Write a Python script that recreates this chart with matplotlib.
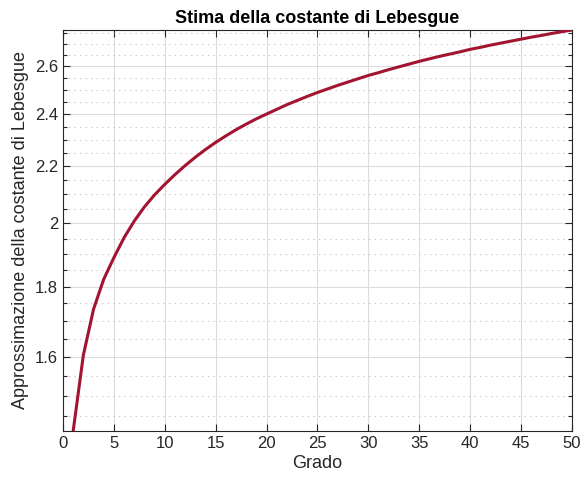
import numpy as np
import matplotlib
matplotlib.use("Agg")
import matplotlib.pyplot as plt
from matplotlib.ticker import FixedLocator, NullFormatter

plt.rcParams['font.family'] = ['Liberation Sans', 'DejaVu Sans']

# ==================== dati ====================
grado = list(range(1, 51))
lebesgue = [
    1.414, 1.605, 1.733, 1.822, 1.889, 1.953, 2.008, 2.056, 2.098, 2.135,
    2.170, 2.203, 2.234, 2.263, 2.290, 2.315, 2.339, 2.361, 2.382, 2.401,
    2.420, 2.439, 2.456, 2.473, 2.489, 2.504, 2.519, 2.533, 2.547, 2.561,
    2.573, 2.586, 2.598, 2.610, 2.622, 2.633, 2.644, 2.654, 2.664, 2.675,
    2.684, 2.694, 2.703, 2.712, 2.721, 2.730, 2.738, 2.747, 2.755, 2.763,
]
x_ticks = list(range(0, 51, 5))
y_ticks = [1.6, 1.8, 2.0, 2.2, 2.4, 2.6]
y_tick_labels = ['1.6', '1.8', '2', '2.2', '2.4', '2.6']
y_minor = [1.45, 1.5, 1.55, 1.65, 1.7, 1.75, 1.85, 1.9, 1.95, 2.05, 2.1, 2.15,
           2.25, 2.3, 2.35, 2.45, 2.5, 2.55, 2.65, 2.7, 2.75]

# ==================== grafico ====================
fig = plt.figure(figsize=(5.8, 4.82), dpi=100)
ax = fig.add_axes([0.1086, 0.1058, 0.8776, 0.832])

ax.set_yscale('log')
ax.plot(grado, lebesgue, color='#A2142F', linewidth=2.2, zorder=3)

ax.set_xlim(0, 50)
ax.set_ylim(lebesgue[0], lebesgue[-1])
ax.set_xticks(x_ticks)
ax.yaxis.set_major_locator(FixedLocator(y_ticks))
ax.set_yticklabels(y_tick_labels)
ax.yaxis.set_minor_locator(FixedLocator(y_minor))
ax.yaxis.set_minor_formatter(NullFormatter())

ax.grid(True, which='major', color='#dcdcdc', linewidth=0.8, linestyle='-', zorder=0)
ax.grid(True, which='minor', axis='y', color='#bdbdbd', linewidth=0.8,
        linestyle=(0, (1, 4)), zorder=0)

ax.tick_params(which='both', direction='in', top=True, right=True,
               colors='#262626', labelsize=12, length=5, width=0.8)
ax.tick_params(which='minor', length=3)
for s in ax.spines.values():
    s.set_color('#262626')
    s.set_linewidth(0.8)

ax.set_title('Stima della costante di Lebesgue', fontsize=13, fontweight='bold', pad=5)
ax.set_xlabel('Grado', fontsize=13, color='#262626', labelpad=3)
ax.set_ylabel('Approssimazione della costante di Lebesgue', fontsize=13,
              color='#262626', labelpad=4)

plt.savefig('out.png', dpi=100)
plt.close()
